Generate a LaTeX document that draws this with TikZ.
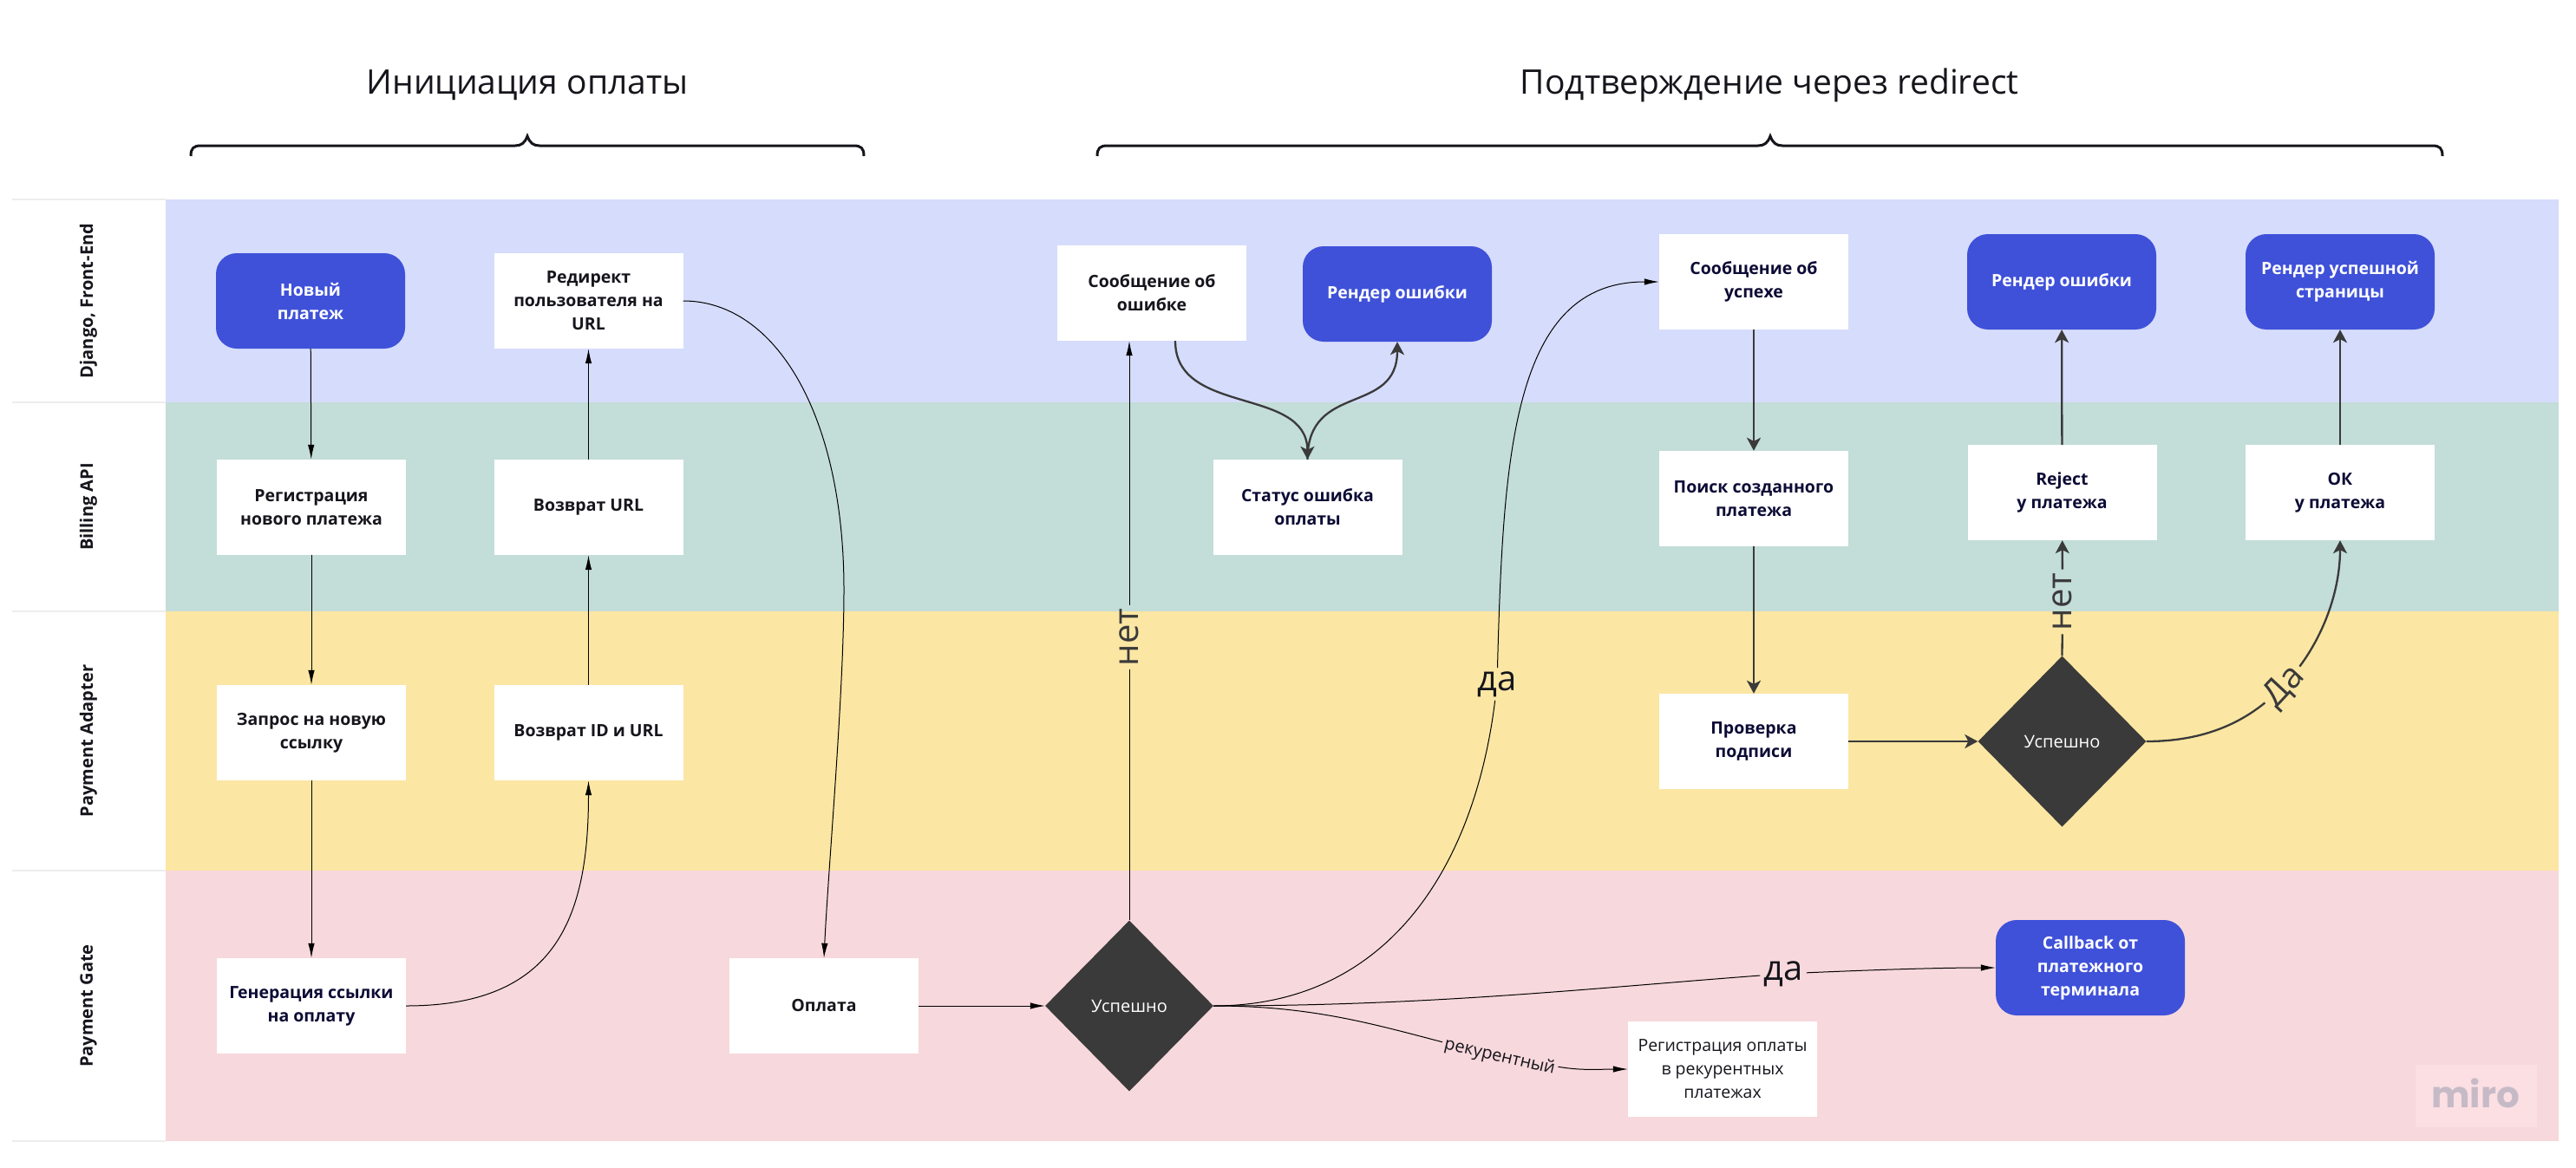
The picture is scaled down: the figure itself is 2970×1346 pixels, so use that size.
\documentclass[tikz,border=0pt]{standalone}
\usepackage{fontspec}
\setmainfont{Open Sans}
\newfontfamily\mirofont{Poppins}
\usepackage{tikz}
\usetikzlibrary{arrows.meta}
\usetikzlibrary{shapes.geometric}

\definecolor{laneblue}{HTML}{D6DCFB}
\definecolor{laneteal}{HTML}{C3DDD8}
\definecolor{laneyellow}{HTML}{FBE6A3}
\definecolor{lanepink}{HTML}{F7D8DC}
\definecolor{renderblue}{HTML}{3F51D9}
\definecolor{darkgrey}{HTML}{3A3A3A}
\definecolor{inkblack}{HTML}{15151C}
\definecolor{inknavy}{HTML}{0C0B35}
\definecolor{miropatch}{HTML}{FBDFE2}
\definecolor{mirotext}{HTML}{C6BAC6}

\begin{document}
\begin{tikzpicture}[
        x=1pt, y=-1pt, % Координаты в пикселях картинки
        block/.style={fill=white, minimum width=218pt, minimum height=110pt, inner sep=0pt, align=center,
            text=inkblack, font=\fontsize{19.5}{27}\selectfont\bfseries},
        navyblock/.style={block, text=inknavy},
        plainblock/.style={block, font=\fontsize{19.5}{27}\selectfont},
        render/.style={block, fill=renderblue, text=white, rounded corners=24pt},
        decision/.style={diamond, aspect=1, fill=darkgrey, text=white, minimum width=194pt, minimum height=197pt,
            inner sep=0pt, font=\fontsize{20}{27}\selectfont},
        lanelabel/.style={rotate=90, text=inkblack, font=\fontsize{20}{24}\selectfont\bfseries},
        thinlink/.style={->, >={Latex[length=17pt,width=7.5pt]}, line width=1pt, black},
        thicklink/.style={->, >={Stealth[length=15pt,width=16pt,inset=4pt]}, line width=2.3pt, darkgrey},
        edgelabel/.style={inner sep=4pt, font=\fontsize{40}{40}\selectfont},
        title/.style={text=inkblack, font=\fontsize{39}{48}\selectfont},
        bracket/.style={line width=3pt, inkblack}
    ]
        \useasboundingbox (0,0) rectangle (2970,1346);

        % --- Дорожки ---
        \foreach \ytop/\ybot/\lanecolor/\lanename/\lanetext in {
            230/464/laneblue/django/{Django, Front-End},
            464/705/laneteal/billing/{Billing API},
            705/1004/laneyellow/adapter/{Payment Adapter},
            1004/1316/lanepink/gate/{Payment Gate}} {
            \fill[\lanecolor] (191,\ytop) rectangle (2950,\ybot);
            \draw[line width=1.5pt, black!7] (14,\ytop) -- (191,\ytop);
            \draw[line width=1.5pt, black!7] (14,\ybot) -- (191,\ybot);
            \node[lanelabel] (\lanename) at (102,{(\ytop+\ybot)/2}) {\lanetext};
        }

        % --- Заголовки и скобки ---
        \node[title] (initTitle) at (608,98) {Инициация оплаты};
        \node[title] (confirmTitle) at (2040,98) {Подтверждение через redirect};
        \foreach \lft/\mid/\rgt in {220/608/996, 1265/2041/2816} {
            \draw[bracket] (\lft,180) .. controls (\lft,171) and ({\lft+3},168) .. ({\lft+12},168)
                -- ({\mid-14},168) .. controls ({\mid-7},168) and ({\mid-3},165) .. (\mid,157)
                .. controls ({\mid+3},165) and ({\mid+7},168) .. ({\mid+14},168)
                -- ({\rgt-12},168) .. controls ({\rgt-3},168) and (\rgt,171) .. (\rgt,180);
        }

        % --- Инициация ---
        \node[render] (newPay) at (358,347) {Новый\\платеж};
        \node[block] (redirect) at (678.5,347) {Редирект\\пользователя на\\URL};
        \node[block] (regPay) at (359,585) {Регистрация\\нового платежа};
        \node[block] (backUrl) at (678.5,585) {Возврат URL};
        \node[block] (askLink) at (359,845) {Запрос на новую\\ссылку};
        \node[block] (backId) at (678.5,845) {Возврат ID и URL};
        \node[navyblock] (genLink) at (359,1160) {Генерация ссылки\\на оплату};
        \node[block] (pay) at (950,1160) {Оплата};

        % --- Подтверждение ---
        \node[decision] (okGate) at (1302,1160) {Успешно};
        \node[block] (msgFail) at (1328,338) {Сообщение об\\ошибке};
        \node[render] (renderFail) at (1611,339) {Рендер ошибки};
        \node[navyblock] (statusFail) at (1507.5,585) {Статус ошибка\\оплаты};
        \node[navyblock] (msgOk) at (2022,325) {Сообщение об\\успехе};
        \node[navyblock] (findPay) at (2022,575) {Поиск созданного\\платежа};
        \node[navyblock] (checkSign) at (2022,855) {Проверка\\подписи};
        \node[decision] (okAdapter) at (2377.5,855) {Успешно};
        \node[navyblock] (reject) at (2377.5,568) {Reject\\у платежа};
        \node[navyblock] (okPay) at (2698,568) {ОК\\у платежа};
        \node[render] (renderReject) at (2377,325) {Рендер ошибки};
        \node[render] (renderOk) at (2698,325) {Рендер успешной\\страницы};
        \node[render] (callback) at (2410,1116) {Callback от\\платежного\\терминала};
        \node[plainblock] (regRecur) at (1986,1233) {Регистрация оплаты\\в рекурентных\\платежах};

        % --- Подписи на стрелках ---
        \node[edgelabel, rotate=90, text=darkgrey] (noGate) at (1302,735) {нет};
        \node[edgelabel, text=inkblack] (yesMsg) at (1726,789) {да};
        \node[edgelabel, text=inkblack] (yesCallback) at (2056,1123) {да};
        \node[edgelabel, rotate=-13, inner sep=3pt, text=inkblack, font=\fontsize{20}{24}\selectfont] (recur) at (1729,1219) {рекурентный};
        \node[edgelabel, rotate=90, text=darkgrey] (noAdapter) at (2378,694) {нет};
        \node[edgelabel, rotate=47, text=darkgrey] (yesOk) at (2634,792) {Да};

        % --- Стрелки первой части ---
        \draw[thinlink] (newPay) -- (regPay);
        \draw[thinlink] (regPay) -- (askLink);
        \draw[thinlink] (askLink) -- (genLink);
        \draw[thinlink] (genLink.east) .. controls (640,1160) and (678.5,1060) .. (backId.south);
        \draw[thinlink] (backId) -- (backUrl);
        \draw[thinlink] (backUrl) -- (redirect);
        \draw[thinlink] (redirect.east) .. controls (895,347) and (973,480) .. (973,680)
            .. controls (973,800) and (955,1000) .. (pay.north);
        \draw[thinlink] (pay) -- (okGate);

        % --- Стрелки второй части ---
        \draw[line width=1pt] (okGate.north) -- (noGate);
        \draw[thinlink] (noGate) -- (msgFail.south -| noGate);
        \draw[line width=1pt] (okGate.east) .. controls (1600,1160) and (1700,1000) .. (yesMsg);
        \draw[thinlink] (yesMsg) .. controls (1733,520) and (1745,325) .. (msgOk.west);
        \draw[line width=1pt] (okGate.east) .. controls (1650,1160) and (1830,1140) .. (yesCallback);
        \draw[thinlink] (yesCallback) .. controls (2170,1118) and (2240,1116) .. (callback.west);
        \draw[line width=1pt] (okGate.east) .. controls (1510,1160) and (1580,1180) .. (recur);
        \draw[thinlink] (recur) .. controls (1825,1235) and (1845,1233) .. (regRecur.west);

        \draw[thicklink] (msgFail.south -| 1355,0) .. controls (1355,480) and (1507,445) .. (statusFail.north);
        \draw[thicklink] (statusFail.north) .. controls (1507.5,440) and (1611,480) .. (renderFail.south);
        \draw[thicklink] (msgOk) -- (findPay);
        \draw[thicklink] (findPay) -- (checkSign);
        \draw[thicklink] (checkSign) -- (okAdapter);
        \draw[line width=2.3pt, darkgrey] (okAdapter.north) -- (noAdapter);
        \draw[thicklink] (noAdapter) -- (reject);
        \draw[thicklink] (reject) -- (renderReject);
        \draw[thicklink] (okPay) -- (renderOk);
        \draw[line width=2.3pt, darkgrey] (okAdapter.east) .. controls (2530,855) and (2575,840) .. (yesOk);
        \draw[thicklink] (yesOk) .. controls (2680,730) and (2698,680) .. (okPay.south);

        % --- Водяной знак ---
        \fill[miropatch] (2785,1228) rectangle (2925,1300);
        \node[anchor=base, text=mirotext, font=\fontsize{42}{44}\selectfont\mirofont\bfseries] (miro) at (2854,1277) {miro};
\end{tikzpicture}
\end{document}
